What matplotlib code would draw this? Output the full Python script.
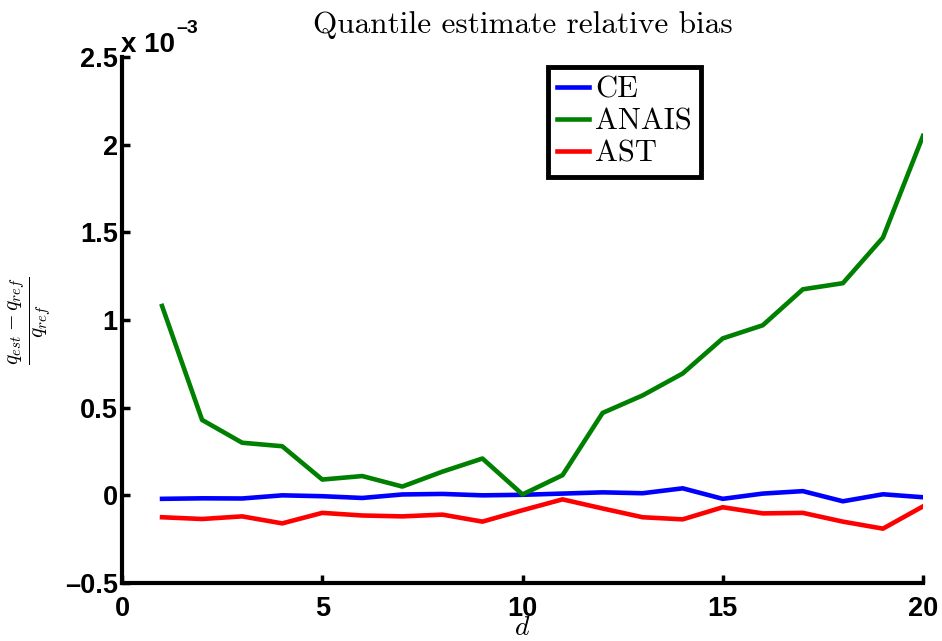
import matplotlib
matplotlib.use("Agg")
import matplotlib.pyplot as plt
from matplotlib.ticker import FuncFormatter
import numpy as np

plt.rcParams["mathtext.fontset"] = "cm"

d = np.arange(1, 21)
# relative bias, in units of 1e-3
ce = [-0.02, -0.017, -0.018, 0.0, -0.005, -0.015, 0.005, 0.008, 0.0, 0.003,
      0.01, 0.017, 0.012, 0.04, -0.02, 0.01, 0.024, -0.034, 0.006, -0.011]
anais = [1.08, 0.43, 0.30, 0.28, 0.09, 0.11, 0.05, 0.135, 0.21, 0.005,
         0.115, 0.47, 0.57, 0.695, 0.895, 0.97, 1.175, 1.21, 1.47, 2.05]
ast = [-0.125, -0.135, -0.12, -0.16, -0.1, -0.115, -0.12, -0.11, -0.15, -0.085,
       -0.023, -0.075, -0.125, -0.137, -0.068, -0.103, -0.1, -0.15, -0.19, -0.063]
xticks = [0, 5, 10, 15, 20]
yticks = [-0.5, 0, 0.5, 1, 1.5, 2, 2.5]
scale = 1e-3
W, H = 942, 641

fig = plt.figure(figsize=(W / 100, H / 100), dpi=100)
ax = fig.add_axes([122 / W, 1 - 583 / H, 801 / W, 526 / H])

ax.plot(d, np.array(ce) * scale, color=(0, 0, 1), lw=3.3, label="CE")
ax.plot(d, np.array(anais) * scale, color=(0, 0.5, 0), lw=3.3, label="ANAIS")
ax.plot(d, np.array(ast) * scale, color=(1, 0, 0), lw=3.3, label="AST")

ax.set_xlim(0, 20)
ax.set_ylim(-0.5 * scale, 2.5 * scale)
ax.set_xticks(xticks)
ax.set_yticks([v * scale for v in yticks])
ax.yaxis.set_major_formatter(FuncFormatter(
    lambda v, p: ("%g" % round(v / scale, 6)).replace("-", "\u2013")))
ax.xaxis.set_major_formatter(FuncFormatter(lambda v, p: "%g" % v))

for s in ("top", "right"):
    ax.spines[s].set_visible(False)
for s in ("left", "bottom"):
    ax.spines[s].set_linewidth(3)
ax.tick_params(direction="in", length=6, width=2.5, labelsize=19.5)
ax.tick_params(axis="y", pad=3)
ax.tick_params(axis="x", pad=9)
for lab in ax.get_xticklabels() + ax.get_yticklabels():
    lab.set_fontweight("bold")
    lab.set_family(["Liberation Sans", "DejaVu Sans"])

fig.text(121 / W, 1 - 52 / H, "x 10", fontsize=20, fontweight="bold",
         family=["Liberation Sans"], va="baseline", ha="left")
fig.text(176 / W, 1 - 33 / H, "\u20133", fontsize=14, fontweight="bold",
         family=["Liberation Sans"], va="baseline", ha="left")

ax.set_title("Quantile estimate relative bias", family="cmr10",
             fontsize=22.5, pad=17)
ax.set_xlabel("$d$", fontsize=20, labelpad=-6)
fig.text(30 / W, 1 - 321 / H, r"$\frac{q_{est}-q_{ref}}{q_{ref}}$",
         fontsize=22, rotation=90, ha="center", va="center")

leg = ax.legend(loc="upper left", bbox_to_anchor=(0.532, 0.981),
                prop={"family": "cmr10", "size": 22}, fancybox=False,
                framealpha=1, edgecolor="black", handlelength=1.05,
                handletextpad=0.2, borderpad=0.3, labelspacing=0.15,
                borderaxespad=0)
leg.get_frame().set_linewidth(3.5)

fig.savefig("out.png", dpi=100)
